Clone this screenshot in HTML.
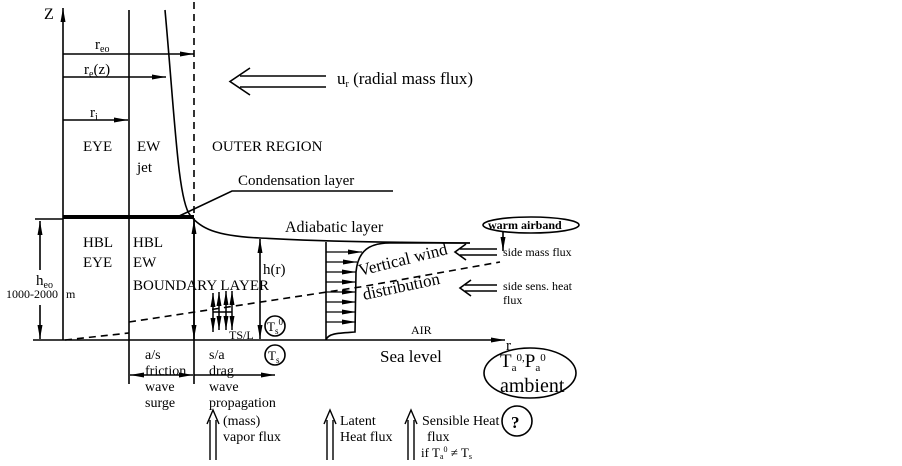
<!DOCTYPE html>
<html><head><meta charset="utf-8"><style>
html,body{margin:0;padding:0;background:#fff;width:902px;height:466px;overflow:hidden}
svg{display:block}
text{font-family:"Liberation Serif",serif;fill:#000}
</style></head><body>
<svg width="902" height="466" viewBox="0 0 902 466" xmlns="http://www.w3.org/2000/svg">
<defs>
<marker id="a" markerWidth="14" markerHeight="6" refX="14" refY="3" orient="auto" markerUnits="userSpaceOnUse"><path d="M0,0.5 L14,3 L0,5.5 Z" fill="#000"/></marker>
</defs>
<g stroke="#000" fill="none" stroke-width="1.6">
<line x1="63" y1="340" x2="63" y2="8" marker-end="url(#a)"/>
<line x1="33" y1="340" x2="505" y2="340" marker-end="url(#a)"/>
<line x1="129" y1="10" x2="129" y2="384"/>
<line x1="194" y1="218" x2="194" y2="384"/>
<line x1="194" y1="2" x2="194" y2="218" stroke-dasharray="7,5"/>
<line x1="63" y1="217" x2="194" y2="217" stroke-width="4"/>
<line x1="35" y1="219" x2="63" y2="219"/>
<line x1="63" y1="54" x2="194" y2="54" marker-end="url(#a)"/>
<line x1="63" y1="77" x2="166" y2="77" marker-end="url(#a)"/>
<line x1="63" y1="120" x2="128" y2="120" marker-end="url(#a)"/>
<path d="M165,10 C175,120 178,200 190,215 C200,228 215,236 260,238 C300,240 330,242 470,243"/>
<polyline points="175,218 232,191 393,191"/>
<polyline points="326,76 240,76"/>
<polyline points="326,87 240,87"/>
<polyline points="250,68 230,81.5 250,95"/>
<line x1="40" y1="270" x2="40" y2="221" marker-end="url(#a)"/>
<line x1="40" y1="305" x2="40" y2="339" marker-end="url(#a)"/>
<line x1="194" y1="280" x2="194" y2="220" marker-end="url(#a)"/>
<line x1="194" y1="280" x2="194" y2="339" marker-end="url(#a)"/>
<line x1="260" y1="290" x2="260" y2="239" marker-end="url(#a)"/>
<line x1="260" y1="290" x2="260" y2="339" marker-end="url(#a)"/>
<path d="M65,340 L129,333" stroke-dasharray="7,5"/>
<path d="M129,322 L360,287 L500,262" stroke-dasharray="7,5"/>
<line x1="326" y1="242" x2="326" y2="340"/>
<path d="M326,340 C328,333 340,333 355,332 L356,272 C358,250 370,243 390,243 L470,243"/>
<g stroke-width="1.3">
<line x1="326" y1="252" x2="362" y2="252" marker-end="url(#a)"/>
<line x1="326" y1="262" x2="357" y2="262" marker-end="url(#a)"/>
<line x1="326" y1="272" x2="356" y2="272" marker-end="url(#a)"/>
<line x1="326" y1="282" x2="356" y2="282" marker-end="url(#a)"/>
<line x1="326" y1="292" x2="356" y2="292" marker-end="url(#a)"/>
<line x1="326" y1="302" x2="356" y2="302" marker-end="url(#a)"/>
<line x1="326" y1="312" x2="356" y2="312" marker-end="url(#a)"/>
<line x1="326" y1="322" x2="356" y2="322" marker-end="url(#a)"/>
</g>
<line x1="460" y1="249" x2="497" y2="249"/><line x1="460" y1="255" x2="497" y2="255"/>
<polyline points="466,244 455,252 466,260"/>
<line x1="465" y1="285" x2="497" y2="285"/><line x1="465" y1="291" x2="497" y2="291"/>
<polyline points="471,280 460,288 471,296"/>
<ellipse cx="531" cy="225" rx="48" ry="8"/>
<line x1="503" y1="232" x2="503" y2="251" marker-end="url(#a)"/>
<ellipse cx="530" cy="373" rx="46" ry="25"/>
<circle cx="275" cy="355" r="10"/>
<circle cx="275" cy="326" r="10"/>
<circle cx="517" cy="421" r="15"/>
<line x1="160" y1="375" x2="130" y2="375" marker-end="url(#a)"/>
<line x1="160" y1="375" x2="193" y2="375" marker-end="url(#a)"/>
<line x1="194" y1="375" x2="275" y2="375" marker-end="url(#a)"/>
<g stroke-width="1.5">
<line x1="213" y1="313" x2="213" y2="293" marker-end="url(#a)"/><line x1="213" y1="313" x2="213" y2="332" marker-end="url(#a)"/>
<line x1="219" y1="310" x2="219" y2="292" marker-end="url(#a)"/><line x1="219" y1="310" x2="219" y2="330" marker-end="url(#a)"/>
<line x1="226" y1="309" x2="226" y2="291" marker-end="url(#a)"/><line x1="226" y1="309" x2="226" y2="330" marker-end="url(#a)"/>
<line x1="232" y1="310" x2="232" y2="291" marker-end="url(#a)"/><line x1="232" y1="310" x2="232" y2="330" marker-end="url(#a)"/>
<line x1="213" y1="312" x2="232" y2="312"/>
</g>
<g stroke-width="1.4">
<line x1="210" y1="420" x2="210" y2="460"/><line x1="216" y1="420" x2="216" y2="460"/><polyline points="207,424 213,410 219,424"/>
<line x1="327" y1="420" x2="327" y2="460"/><line x1="333" y1="420" x2="333" y2="460"/><polyline points="324,424 330,410 336,424"/>
<line x1="408" y1="420" x2="408" y2="460"/><line x1="414" y1="420" x2="414" y2="460"/><polyline points="405,424 411,410 417,424"/>
</g>
</g>
<g font-size="15">
<text x="44" y="19" font-size="16">Z</text>
<text x="506" y="350">r</text>
<text x="95" y="49">r<tspan font-size="10" dy="3">eo</tspan></text>
<text x="84" y="74">r<tspan font-size="10" dy="3">e</tspan><tspan dy="-3">(z)</tspan></text>
<text x="90" y="117">r<tspan font-size="10" dy="3">i</tspan></text>
<text x="337" y="84" font-size="17">u<tspan font-size="10" dy="3">r</tspan><tspan dy="-3"> (radial mass flux)</tspan></text>
<text x="83" y="151">EYE</text>
<text x="137" y="151">EW</text>
<text x="137" y="172">jet</text>
<text x="212" y="151">OUTER REGION</text>
<text x="238" y="185">Condensation layer</text>
<text x="285" y="232" font-size="16">Adiabatic layer</text>
<text x="83" y="247">HBL</text>
<text x="83" y="267">EYE</text>
<text x="133" y="247">HBL</text>
<text x="133" y="267">EW</text>
<text x="133" y="290">BOUNDARY LAYER</text>
<text x="36" y="285">h<tspan font-size="10" dy="3">eo</tspan></text>
<text x="6" y="298" font-size="12">1000-2000</text>
<text x="66" y="298" font-size="12">m</text>
<text x="263" y="274">h(r)</text>
<text x="229" y="339" font-size="12">TS/L</text>
<text x="267" y="331" font-size="13">T<tspan font-size="9" dy="3">s</tspan><tspan font-size="9" dy="-9">0</tspan></text>
<text x="268" y="360" font-size="13">T<tspan font-size="9" dy="3">s</tspan></text>
<text x="360" y="276" font-size="17" transform="rotate(-14 360 276)">Vertical wind</text>
<text x="364" y="300" font-size="17" transform="rotate(-12 364 300)">distribution</text>
<text x="488" y="229" font-size="12" font-weight="bold">warm airband</text>
<text x="503" y="256" font-size="12">side mass flux</text>
<text x="503" y="290" font-size="12">side sens. heat</text>
<text x="503" y="304" font-size="12">flux</text>
<text x="411" y="334" font-size="12">AIR</text>
<text x="380" y="362" font-size="17">Sea level</text>
<text x="500" y="367" font-size="19">T<tspan font-size="11" dy="4">a</tspan><tspan font-size="11" dy="-10">0,</tspan><tspan dy="6">P</tspan><tspan font-size="11" dy="4">a</tspan><tspan font-size="11" dy="-10">0</tspan></text>
<text x="500" y="392" font-size="20">ambient</text>
<text x="145" y="359" font-size="14">a/s</text>
<text x="145" y="375" font-size="14">friction</text>
<text x="145" y="391" font-size="14">wave</text>
<text x="145" y="407" font-size="14">surge</text>
<text x="209" y="359" font-size="14">s/a</text>
<text x="209" y="375" font-size="14">drag</text>
<text x="209" y="391" font-size="14">wave</text>
<text x="209" y="407" font-size="14">propagation</text>
<text x="223" y="425" font-size="14">(mass)</text>
<text x="223" y="441" font-size="14">vapor flux</text>
<text x="340" y="425" font-size="14">Latent</text>
<text x="340" y="441" font-size="14">Heat flux</text>
<text x="422" y="425" font-size="14">Sensible Heat</text>
<text x="427" y="441" font-size="14">flux</text>
<text x="421" y="457" font-size="13">if T<tspan font-size="8" dy="2">a</tspan><tspan font-size="8" dy="-7">0</tspan><tspan dy="5"> ≠ T</tspan><tspan font-size="8" dy="2">s</tspan></text>
<text x="511" y="428" font-size="17" font-weight="bold">?</text>
</g>
</svg>
</body></html>
